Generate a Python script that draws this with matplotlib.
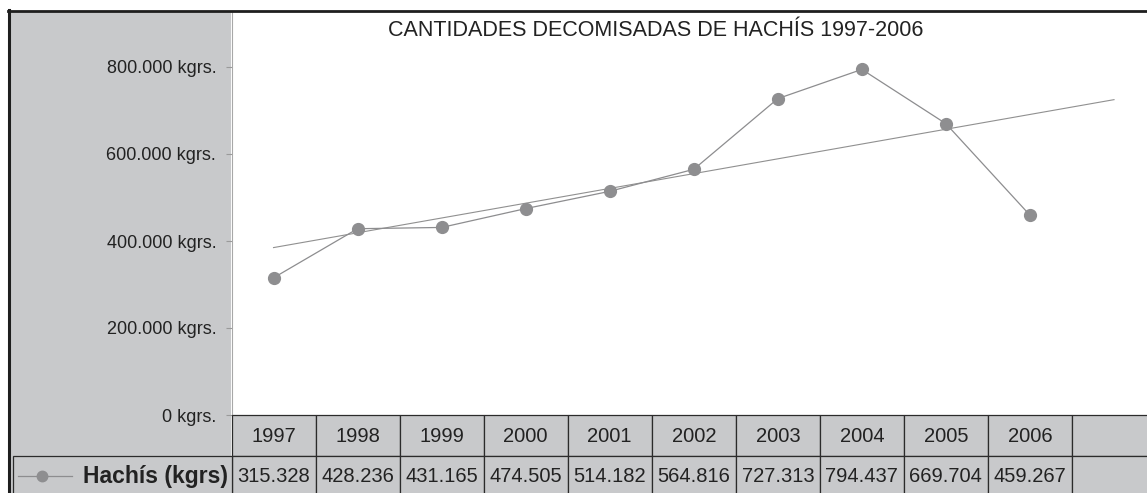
import numpy as np
import matplotlib
matplotlib.use("Agg")
import matplotlib.pyplot as plt
from matplotlib import transforms
from matplotlib.patches import Rectangle
from matplotlib.lines import Line2D

plt.rcParams['font.family'] = ['Liberation Sans', 'DejaVu Sans']

# --- data ---------------------------------------------------------------
years = ["1997", "1998", "1999", "2000", "2001", "2002", "2003", "2004", "2005", "2006"]
hachis_kg = [315328, 428236, 431165, 474505, 514182, 564816, 727313, 794437, 669704, 459267]
value_labels = ["315.328", "428.236", "431.165", "474.505", "514.182", "564.816",
                "727.313", "794.437", "669.704", "459.267"]
series_name = "Hachís (kgrs)"
title = "CANTIDADES DECOMISADAS DE HACHÍS 1997-2006"
yticks = [0, 200000, 400000, 600000, 800000]
ytick_labels = ["0 kgrs.", "200.000 kgrs.", "400.000 kgrs.", "600.000 kgrs.", "800.000 kgrs."]

# --- styling ------------------------------------------------------------
W, H = 1147, 493
PANEL = "#c8c9cb"
DARK = "#2b2b2b"
LINE = "#8d8d8f"
n_cols = len(years) + 1          # one trailing empty category

fig = plt.figure(figsize=(W / 100, H / 100), dpi=100)


def fx(px):
    return px / W


def fy(py):
    return 1 - py / H


# grey panel behind axis labels and table
fig.patches.append(Rectangle((fx(9), fy(493)), fx(231.5) - fx(9), fy(11) - fy(493),
                             transform=fig.transFigure, facecolor=PANEL, edgecolor="none", zorder=-1))

col_w = 84.05
left_px, top_px, base_px = 231.5, 11, 415
ax = fig.add_axes([fx(left_px), fy(base_px), fx(col_w * n_cols), (base_px - top_px) / H])
ax.set_facecolor("white")

x = np.arange(len(years))
ax.plot(x, hachis_kg, color=LINE, lw=0.9, marker="o", ms=8.5,
        markerfacecolor="#8e8e90", markeredgecolor="#8e8e90", zorder=3)

# linear trend over the observed years, projected one period ahead
coef = np.polyfit(x, hachis_kg, 1)
xt = np.array([0, n_cols - 1])
ax.plot(xt, np.polyval(coef, xt), color="#909090", lw=0.8, zorder=2)

ax.set_xlim(-0.5, n_cols - 0.5)
ax.set_ylim(0, 200000 * (base_px - top_px) / 87.0)
ax.set_xticks([])
ax.set_yticks(yticks)
ax.set_yticklabels(ytick_labels, fontsize=13, color="#222222")
ax.tick_params(axis="y", direction="out", length=4.5, width=0.8, color="#9a9a9a", pad=6.5)
for lbl in ax.get_yticklabels():
    lbl.set_y(lbl.get_position()[1])
for s in ("top", "right", "bottom"):
    ax.spines[s].set_visible(False)
ax.spines["left"].set_color("#a8a8a8")
ax.spines["left"].set_linewidth(0.8)

fig.text(fx(656), fy(31), title, ha="center", va="center", fontsize=15.5, color="#222222")

# --- data table under the axis ------------------------------------------
tr = transforms.blended_transform_factory(ax.transData, fig.transFigure)
row1_top, row1_bot, row2_bot = 415, 456, 500

for i in range(n_cols):
    x0 = i - 0.5
    for (t, b) in ((row1_top, row1_bot), (row1_bot, row2_bot)):
        fig.patches.append(Rectangle((x0, fy(b)), 1, fy(t) - fy(b), transform=tr,
                                     facecolor=PANEL, edgecolor=DARK, lw=0.9,
                                     clip_on=False, zorder=1))
    if i < len(years):
        fig.text(i, fy(436), years[i], transform=tr, ha="center", va="center",
                 fontsize=14.5, color="#222222")
        fig.text(i, fy(476), value_labels[i], transform=tr, ha="center", va="center",
                 fontsize=14.5, color="#222222")

# series label cell
fig.patches.append(Rectangle((fx(12.5), fy(row2_bot)), fx(left_px) - fx(12.5),
                             fy(row1_bot) - fy(row2_bot), transform=fig.transFigure,
                             facecolor=PANEL, edgecolor=DARK, lw=0.9, zorder=1))
fig.lines.append(Line2D([fx(18), fx(72)], [fy(476), fy(476)], transform=fig.transFigure,
                        color=LINE, lw=0.9, zorder=3))
fig.lines.append(Line2D([fx(42)], [fy(476)], transform=fig.transFigure, marker="o", ms=7.5,
                        color="#8e8e90", zorder=3))
fig.text(fx(228), fy(476), series_name, ha="right", va="center", fontsize=16.5,
         fontweight="bold", color="#222222")

# outer frame (left and top edges)
fig.lines.append(Line2D([fx(9), fx(9)], [fy(10), fy(493)], transform=fig.transFigure,
                        color="#1e1e1e", lw=2.2, zorder=5))
fig.lines.append(Line2D([fx(8), fx(1147)], [fy(11), fy(11)], transform=fig.transFigure,
                        color="#1e1e1e", lw=2.0, zorder=5))

fig.savefig("out.png", dpi=100, facecolor="white")
